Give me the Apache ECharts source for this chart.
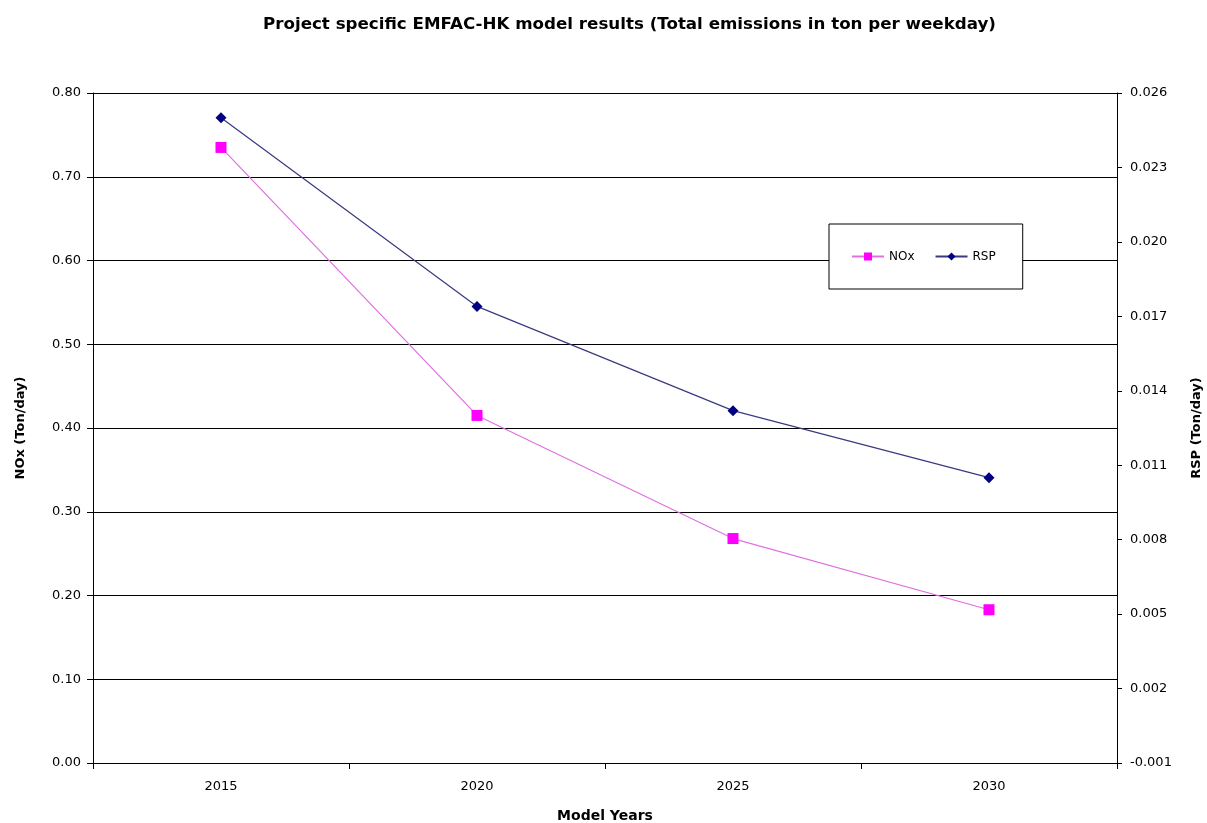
<!DOCTYPE html>
<html>
<head>
<meta charset="utf-8">
<script src="https://cdn.jsdelivr.net/npm/echarts@6/dist/echarts.min.js"></script>
<style>html,body{margin:0;padding:0;background:#fff;overflow:hidden;width:100%;height:100%}#c{width:1207px;height:823px}</style>
</head>
<body>
<div id="c"></div>
<script>
const years = ['2015', '2020', '2025', '2030'];
const noxValues = [0.735, 0.415, 0.268, 0.183];
const rspValues = [0.0250, 0.0174, 0.0132, 0.0105];
const titleText = 'Project specific EMFAC-HK model results (Total emissions in ton per weekday)';

const chart = echarts.init(document.getElementById('c'));
const font = 'DejaVu Sans, Verdana, sans-serif';
chart.setOption({
  animation: false,
  backgroundColor: '#fff',
  textStyle: { fontFamily: font },
  title: {
    text: titleText, left: 258, top: 11,
    textStyle: { fontFamily: font, fontSize: 16.7, fontWeight: 'bold', color: '#000' }
  },
  legend: {
    left: 829, top: 224,
    orient: 'horizontal',
    padding: [26.5, 27, 26.5, 22],
    backgroundColor: '#fff',
    borderColor: '#000', borderWidth: 1,
    itemWidth: 32, itemHeight: 10, itemGap: 20,
    textStyle: { fontFamily: font, fontSize: 12, color: '#000' },
    data: ['NOx', 'RSP']
  },
  grid: { left: 93, right: 90, top: 93, bottom: 60, containLabel: false, outerBoundsMode: 'none' },
  xAxis: {
    type: 'category', data: years, boundaryGap: true,
    name: 'Model Years', nameLocation: 'middle', nameGap: 46,
    nameTextStyle: { fontFamily: font, fontSize: 14, fontWeight: 'bold', color: '#000' },
    axisLine: { lineStyle: { color: '#000', width: 1 } },
    axisTick: { show: true, alignWithLabel: false, length: 6, lineStyle: { color: '#000' } },
    axisLabel: { color: '#000', fontSize: 13, margin: 17, fontFamily: font }
  },
  yAxis: [
    {
      type: 'value', min: 0, max: 0.8, interval: 0.1, position: 'left',
      name: 'NOx (Ton/day)', nameLocation: 'middle', nameGap: 66, nameRotate: 90,
      nameTextStyle: { fontFamily: font, fontSize: 13, fontWeight: 'bold', color: '#000' },
      axisLine: { show: true, lineStyle: { color: '#000' } },
      axisTick: { show: true, length: 6, lineStyle: { color: '#000' } },
      axisLabel: { color: '#000', fontSize: 13, margin: 12, fontFamily: font, formatter: v => v.toFixed(2) },
      splitLine: { show: true, lineStyle: { color: '#000', width: 1 } }
    },
    {
      type: 'value', min: -0.001, max: 0.026, interval: 0.003, position: 'right',
      name: 'RSP (Ton/day)', nameLocation: 'middle', nameGap: 73, nameRotate: 90,
      nameTextStyle: { fontFamily: font, fontSize: 13, fontWeight: 'bold', color: '#000' },
      axisLine: { show: true, lineStyle: { color: '#000' } },
      axisTick: { show: true, length: 5, lineStyle: { color: '#000' } },
      axisLabel: { color: '#000', fontSize: 13, margin: 13, fontFamily: font, formatter: v => v.toFixed(3) },
      splitLine: { show: false }
    }
  ],
  series: [
    {
      name: 'NOx', type: 'line', yAxisIndex: 0, data: noxValues,
      symbol: 'rect', symbolSize: 11,
      itemStyle: { color: '#FF00FF' },
      lineStyle: { color: '#E070E0', width: 1.2 }
    },
    {
      name: 'RSP', type: 'line', yAxisIndex: 1, data: rspValues,
      symbol: 'diamond', symbolSize: 11,
      itemStyle: { color: '#000080' },
      lineStyle: { color: '#3A3A80', width: 1.2 }
    }
  ]
});
</script>
</body>
</html>
